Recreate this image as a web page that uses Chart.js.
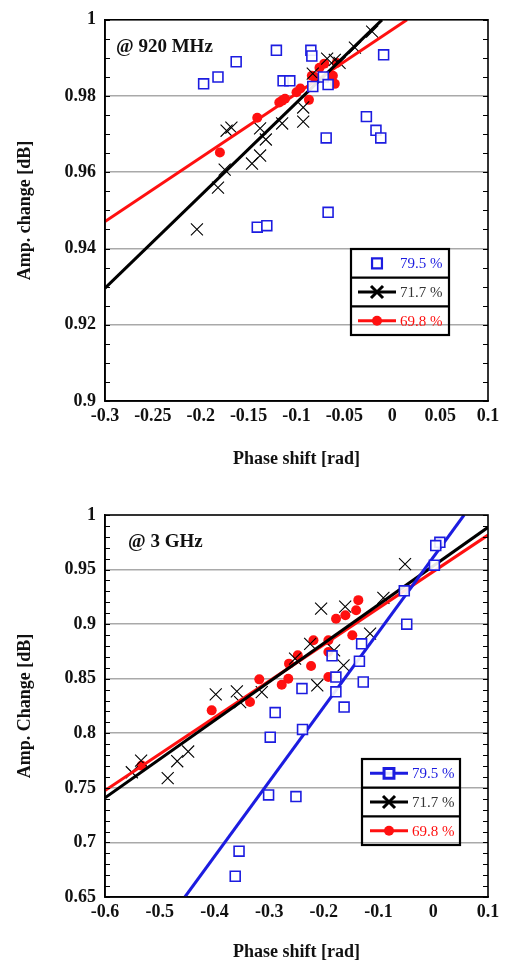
<!DOCTYPE html>
<html>
<head>
<meta charset="utf-8">
<script src="https://cdn.jsdelivr.net/npm/chart.js@4.4.1/dist/chart.umd.min.js"></script>
<style>
  html, body { margin: 0; padding: 0; background: #fff; }
  .panel { position: absolute; left: 0; width: 505px; }
  #p1 { top: 0; height: 482px; }
  #p2 { top: 482px; height: 483px; }
  canvas { display: block; }
</style>
</head>
<body>
<div class="panel" id="p1"><canvas id="c1" width="505" height="482"></canvas></div>
<div class="panel" id="p2"><canvas id="c2" width="505" height="483"></canvas></div>
<script>
// ---------- series labels ----------
const seriesLabels = ['79.5 %', '71.7 %', '69.8 %'];

// ---------- 920 MHz measurements ----------
const phase920_795 = [-0.197, -0.182, -0.163, -0.121, -0.114, -0.107, -0.085, -0.084, -0.083, -0.072, -0.067, -0.069, -0.027, -0.017, -0.012, -0.009, -0.067, -0.141, -0.131];
const amp920_795   = [0.9832, 0.985, 0.989, 0.992, 0.984, 0.984, 0.992, 0.9905, 0.9825, 0.985, 0.983, 0.969, 0.9746, 0.971, 0.969, 0.9908, 0.9495, 0.9456, 0.946];

const phase920_717 = [-0.204, -0.182, -0.175, -0.173, -0.168, -0.1465, -0.138, -0.138, -0.132, -0.115, -0.093, -0.093, -0.083, -0.068, -0.060, -0.055, -0.039, -0.021];
const amp920_717   = [0.945, 0.956, 0.9607, 0.9709, 0.9717, 0.9623, 0.9644, 0.9715, 0.9686, 0.9728, 0.977, 0.9733, 0.9859, 0.9898, 0.9895, 0.9887, 0.9927, 0.9969];

const phase920_698 = [-0.180, -0.141, -0.118, -0.115, -0.112, -0.100, -0.096, -0.087, -0.084, -0.081, -0.076, -0.071, -0.062, -0.060, -0.058];
const amp920_698   = [0.9652, 0.9743, 0.9783, 0.9788, 0.9793, 0.981, 0.982, 0.979, 0.9853, 0.985, 0.9874, 0.9885, 0.9853, 0.9832, 0.9887];

// 920 MHz regression lines (end points)
const fit920_717_x = [-0.3, -0.0107];
const fit920_717_y = [0.9296, 1.0];
const fit920_698_x = [-0.3, 0.0154];
const fit920_698_y = [0.9471, 1.0];

// ---------- 3 GHz measurements ----------
const phase3G_795 = [0.012, 0.0045, 0.002, -0.053, -0.0485, -0.131, -0.185, -0.135, -0.178, -0.128, -0.178, -0.240, -0.163, -0.289, -0.298, -0.239, -0.301, -0.251, -0.355, -0.362];
const amp3G_795   = [0.975, 0.972, 0.954, 0.9305, 0.900, 0.882, 0.871, 0.866, 0.8515, 0.847, 0.838, 0.841, 0.824, 0.819, 0.7964, 0.8035, 0.7435, 0.742, 0.692, 0.669];

const phase3G_717 = [-0.0516, -0.0912, -0.205, -0.161, -0.1155, -0.225, -0.2526, -0.1813, -0.164, -0.212, -0.3135, -0.3976, -0.359, -0.353, -0.534, -0.551, -0.468, -0.448, -0.4854];
const amp3G_717   = [0.955, 0.924, 0.9143, 0.916, 0.8914, 0.882, 0.8684, 0.876, 0.8623, 0.844, 0.8378, 0.8356, 0.8384, 0.8286, 0.775, 0.7643, 0.7744, 0.7833, 0.759];

const phase3G_698 = [-0.533, -0.405, -0.335, -0.318, -0.277, -0.265, -0.2637, -0.2477, -0.2234, -0.219, -0.1917, -0.1917, -0.1917, -0.1777, -0.1607, -0.141, -0.137, -0.148];
const amp3G_698   = [0.7704, 0.821, 0.8286, 0.8494, 0.8445, 0.85, 0.8638, 0.8714, 0.8616, 0.8852, 0.8852, 0.8745, 0.8515, 0.905, 0.9082, 0.9128, 0.922, 0.8898];

// 3 GHz regression lines (end points)
const fit3G_795_x = [-0.454, 0.0563];
const fit3G_795_y = [0.65, 1.0];
const fit3G_717_x = [-0.6, 0.1];
const fit3G_717_y = [0.7408, 0.9887];
const fit3G_698_x = [-0.6, 0.1];
const fit3G_698_y = [0.7475, 0.9816];

// ---------- styling ----------
const SERIF = '"Liberation Serif", "Times New Roman", serif';
const BLUE = '#1c1ce0';
const RED = '#ff1010';
const BLACK = '#000000';
const GRID = '#a9a9a9';

const pts = (xs, ys) => xs.map((x, i) => ({ x: x, y: ys[i] }));
const fmt = v => String(+v.toFixed(3));
const isMultiple = (v, step) => Math.abs(v / step - Math.round(v / step)) < 1e-6;

function scatterSet(label, xs, ys, style, order) {
  const base = { label, data: pts(xs, ys), showLine: false, order };
  if (style === 'square') {
    return Object.assign(base, { pointStyle: 'rect', pointRadius: 7, pointBorderWidth: 1.6,
      borderColor: BLUE, backgroundColor: 'rgba(255,255,255,0.9)', pointHoverRadius: 7 });
  }
  if (style === 'cross') {
    return Object.assign(base, { pointStyle: 'crossRot', pointRadius: 8.5, pointBorderWidth: 1.1,
      borderColor: BLACK, backgroundColor: BLACK, pointHoverRadius: 8.5 });
  }
  return Object.assign(base, { pointStyle: 'circle', pointRadius: 5, pointBorderWidth: 0,
    borderColor: RED, backgroundColor: RED, pointHoverRadius: 5 });
}

function fitSet(xs, ys, color, order) {
  return { label: '', data: pts(xs, ys), showLine: true, borderColor: color, borderWidth: 3,
    pointRadius: 0, pointHoverRadius: 0, fill: false, order };
}

// frame, inward tick marks, caption and boxed legend
const framePlugin = {
  id: 'frame',
  afterDraw(chart, args, opts) {
    const ctx = chart.ctx;
    const a = chart.chartArea;
    const ys = chart.scales.y;
    ctx.save();
    ctx.strokeStyle = '#000';
    ctx.lineWidth = 1;
    ys.ticks.forEach(t => {
      const py = Math.round(ys.getPixelForValue(t.value)) + 0.5;
      ctx.beginPath();
      ctx.moveTo(a.left, py); ctx.lineTo(a.left + 5, py);
      ctx.moveTo(a.right, py); ctx.lineTo(a.right - 5, py);
      ctx.stroke();
    });
    ctx.lineWidth = 1.6;
    ctx.strokeRect(a.left, a.top, a.right - a.left, a.bottom - a.top);

    // caption
    ctx.fillStyle = '#111';
    ctx.font = 'bold 19px ' + SERIF;
    ctx.textBaseline = 'alphabetic';
    ctx.textAlign = 'left';
    ctx.fillText(opts.caption, opts.captionX, opts.captionY);

    // legend
    const L = opts.legend;
    const rowH = L.h / 3;
    ctx.lineWidth = 2.2;
    ctx.strokeStyle = '#000';
    ctx.strokeRect(L.x, L.y, L.w, L.h);
    ctx.beginPath();
    ctx.moveTo(L.x, L.y + rowH); ctx.lineTo(L.x + L.w, L.y + rowH);
    ctx.moveTo(L.x, L.y + 2 * rowH); ctx.lineTo(L.x + L.w, L.y + 2 * rowH);
    ctx.stroke();
    const entries = [
      { text: seriesLabels[0], color: BLUE, line: L.firstLine, style: 'rect', r: 7, bw: 1.6, fill: 'rgba(255,255,255,0.9)' },
      { text: seriesLabels[1], color: '#333', lineColor: BLACK, line: true, style: 'crossRot', r: 8.5, bw: 1.1, fill: BLACK },
      { text: seriesLabels[2], color: RED, lineColor: RED, line: true, style: 'circle', r: 5, bw: 0, fill: RED }
    ];
    ctx.font = '15px ' + SERIF;
    ctx.textBaseline = 'middle';
    entries.forEach((e, i) => {
      const cy = L.y + rowH * i + rowH / 2;
      const lc = e.lineColor || e.color;
      if (e.line) {
        ctx.beginPath();
        ctx.strokeStyle = lc;
        ctx.lineWidth = 3;
        ctx.moveTo(L.x + L.lineX0, cy); ctx.lineTo(L.x + L.lineX1, cy);
        ctx.stroke();
      }
      ctx.strokeStyle = lc;
      ctx.fillStyle = e.fill;
      Chart.helpers.drawPoint(ctx, { pointStyle: e.style, radius: e.r, borderWidth: e.bw, rotation: 0 },
        L.x + (L.lineX0 + L.lineX1) / 2, cy);
      ctx.fillStyle = e.color;
      ctx.fillText(e.text, L.x + L.textX, cy + 1);
    });
    ctx.restore();
  }
};

function makeChart(canvasId, cfg) {
  const tickFont = { family: SERIF, size: 18, weight: 'bold' };
  const titleFont = { family: SERIF, size: 18, weight: 'bold' };
  return new Chart(document.getElementById(canvasId), {
    type: 'scatter',
    data: { datasets: cfg.datasets },
    plugins: [framePlugin],
    options: {
      responsive: false,
      animation: false,
      events: [],
      layout: { padding: { left: 0, right: cfg.padRight, top: cfg.padTop, bottom: 0 } },
      plugins: {
        legend: { display: false },
        tooltip: { enabled: false },
        frame: cfg.frame
      },
      scales: {
        x: {
          type: 'linear', min: cfg.xMin, max: cfg.xMax,
          afterFit: s => { s.height = cfg.xAxisHeight; },
          grid: { display: true, drawOnChartArea: false, drawTicks: false },
          border: { color: '#000', width: 1.6 },
          ticks: { stepSize: cfg.xStep, autoSkip: false, maxRotation: 0, padding: 5, color: '#111',
            font: tickFont, callback: v => fmt(v) },
          title: { display: true, text: 'Phase shift [rad]', color: '#111', font: titleFont,
            padding: { top: 0, bottom: cfg.xTitlePad } }
        },
        y: {
          type: 'linear', min: cfg.yMin, max: cfg.yMax,
          afterFit: s => { s.width = 105; },
          grid: {
            drawTicks: false, lineWidth: 1.6,
            color: c => (isMultiple(c.tick.value, cfg.yMajor) && c.tick.value > cfg.yMin + 1e-6 && c.tick.value < cfg.yMax - 1e-6) ? GRID : 'rgba(0,0,0,0)'
          },
          border: { color: '#000', width: 1.6 },
          ticks: { stepSize: cfg.yMinor, autoSkip: false, padding: 9, color: '#111', font: tickFont,
            callback: v => isMultiple(v, cfg.yMajor) ? fmt(v) : '' },
          title: { display: true, text: cfg.yTitle, color: '#111', font: titleFont,
            padding: { top: 15, bottom: 0 } }
        }
      }
    }
  });
}

// 920 MHz panel
makeChart('c1', {
  datasets: [
    scatterSet(seriesLabels[0], phase920_795, amp920_795, 'square', 0),
    fitSet(fit920_717_x, fit920_717_y, BLACK, 1),
    fitSet(fit920_698_x, fit920_698_y, RED, 2),
    scatterSet(seriesLabels[1], phase920_717, amp920_717, 'cross', 3),
    scatterSet(seriesLabels[2], phase920_698, amp920_698, 'dot', 4)
  ],
  padTop: 19, padRight: 17, xAxisHeight: 81, xTitlePad: 12,
  xMin: -0.3, xMax: 0.1, xStep: 0.05,
  yMin: 0.9, yMax: 1.0, yMinor: 0.005, yMajor: 0.02,
  yTitle: 'Amp. change [dB]',
  frame: {
    caption: '@ 920 MHz', captionX: 116, captionY: 52,
    legend: { x: 351, y: 249, w: 98, h: 86, lineX0: 7, lineX1: 45, textX: 49, firstLine: false }
  }
});

// 3 GHz panel
makeChart('c2', {
  datasets: [
    scatterSet(seriesLabels[0], phase3G_795, amp3G_795, 'square', 0),
    fitSet(fit3G_795_x, fit3G_795_y, BLUE, 1),
    fitSet(fit3G_717_x, fit3G_717_y, BLACK, 2),
    fitSet(fit3G_698_x, fit3G_698_y, RED, 3),
    scatterSet(seriesLabels[1], phase3G_717, amp3G_717, 'cross', 4),
    scatterSet(seriesLabels[2], phase3G_698, amp3G_698, 'dot', 5)
  ],
  padTop: 33, padRight: 17, xAxisHeight: 68, xTitlePad: 2,
  xMin: -0.6, xMax: 0.1, xStep: 0.1,
  yMin: 0.65, yMax: 1.0, yMinor: 0.01, yMajor: 0.05,
  yTitle: 'Amp. Change [dB]',
  frame: {
    caption: '@ 3 GHz', captionX: 128, captionY: 65,
    legend: { x: 362, y: 277, w: 98, h: 86, lineX0: 8, lineX1: 46, textX: 50, firstLine: true }
  }
});
</script>
</body>
</html>
